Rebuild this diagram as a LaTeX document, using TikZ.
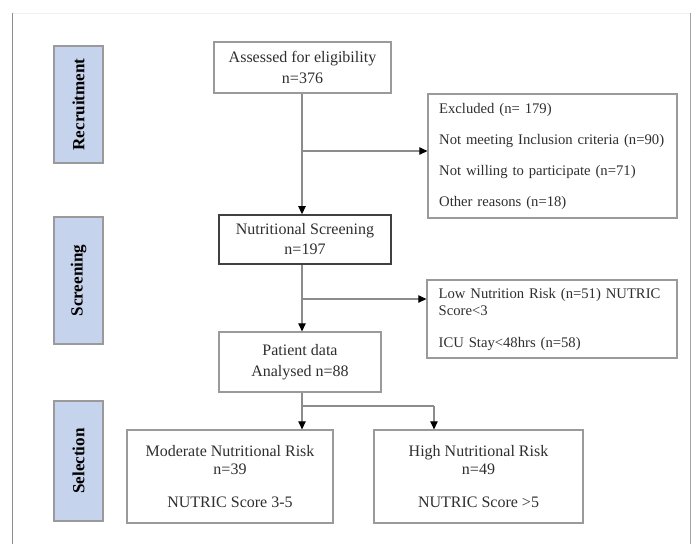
\documentclass[tikz,border=0pt]{standalone}
\usepackage{fontspec}
\setmainfont{Liberation Serif}
\usetikzlibrary{arrows.meta}

\definecolor{labelblue}{HTML}{C6D3EC}
\definecolor{boxgray}{HTML}{9A9A9A}
\definecolor{linegray}{HTML}{8C8C8C}
\definecolor{textgray}{HTML}{2E2E2E}

\tikzset{
  flowbox/.style={draw=boxgray,line width=0.9pt,inner sep=0pt,align=center,text=textgray,font=\fontsize{12}{15.5}\selectfont},
  stagebox/.style={draw=boxgray,line width=0.9pt,fill=labelblue,rotate=90,inner sep=0pt,minimum height=36.75pt,font=\fontsize{12.8}{14}\selectfont\bfseries},
  arr/.style={draw=linegray,line width=0.8pt,-{Triangle[length=6pt,width=5.5pt,color=black]}},
  link/.style={draw=linegray,line width=0.8pt}
}

\begin{document}
\begin{tikzpicture}[x=0.75pt,y=-0.75pt]
      \useasboundingbox (0,0) rectangle (698,544);

      \draw [gray!12] (12,13) to (690,13);
      \draw [linegray] (12,13) to (12,544);
      \draw [linegray!80] (690,13) to (690,544);

      \node [stagebox,minimum width=87.75pt] (recruit) at (78.5,104.5) {Recruitment};
      \node [stagebox,minimum width=95.25pt] (screen) at (78.5,280.5) {Screening};
      \node [stagebox,minimum width=90pt] (select) at (78.5,461) {Selection};

      \node [flowbox,minimum width=132.75pt,minimum height=38.25pt,font=\fontsize{12}{15.75}\selectfont] (assess) at (302.5,67.5) {Assessed for eligibility\\ n=376};

      \node [flowbox,minimum width=186.75pt,minimum height=93pt,text width=170pt,align=left,font=\fontsize{11}{23.25}\selectfont] (excl) at (552.5,156)
        {Excluded (n= 179)\\ Not meeting Inclusion criteria (n=90)\\ Not willing to participate (n=71)\\ Other reasons (n=18)};

      \node [flowbox,draw=black!75,line width=1.2pt,minimum width=129pt,minimum height=36.75pt,font=\fontsize{12}{15}\selectfont] (nutri) at (305,239.5) {Nutritional Screening\\ n=197};

      \node [flowbox,minimum width=187.5pt,minimum height=58.5pt,text width=170pt,align=left,font=\fontsize{11}{12.75}\selectfont] (low) at (552,319)
        {Low Nutrition Risk (n=51) NUTRIC\\ Score<3\\[11.25pt] ICU Stay<48hrs (n=58)};

      \node [flowbox,minimum width=121.5pt,minimum height=45pt,font=\fontsize{12}{15.75}\selectfont] (patient) at (300,362) {Patient data\\ Analysed n=88};

      \node [flowbox,minimum width=154.5pt,minimum height=69.75pt,font=\fontsize{12}{13.5}\selectfont] (moder) at (230,476.5)
        {Moderate Nutritional Risk\\ n=39\\[11.25pt] NUTRIC Score 3-5};
      \node [flowbox,minimum width=156.75pt,minimum height=69.75pt,font=\fontsize{12}{13.5}\selectfont] (high) at (478.5,476.5)
        {High Nutritional Risk\\ n=49\\[11.25pt] NUTRIC Score >5};

      \coordinate (b1) at (302,151);
      \coordinate (b2) at (302,299);
      \coordinate (b3) at (302,406);
      \coordinate (b4) at (434,406);

      \draw [arr] (b1 |- assess.south) to (b1 |- nutri.north);
      \draw [arr] (b1) to (b1 -| excl.west);

      \draw [arr] (b2 |- nutri.south) to (b2 |- patient.north);
      \draw [arr] (b2) to (b2 -| low.west);

      \draw [arr] (b3 |- patient.south) to (b3 |- moder.north);
      \draw [link] (b3) to (b4);
      \draw [arr] (b4) to (b4 |- high.north);

    \end{tikzpicture}
\end{document}
